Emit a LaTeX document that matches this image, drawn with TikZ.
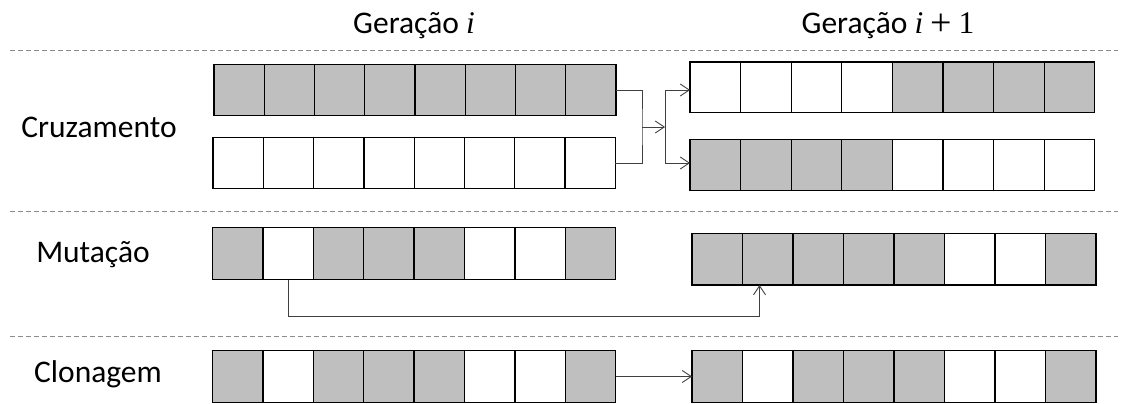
\documentclass[tikz,border=0pt]{standalone}
\usepackage{fontspec}
\setmainfont{Carlito}
\newfontfamily\mathserif{Liberation Serif}
\usetikzlibrary{arrows.meta}
\definecolor{cg}{HTML}{BFBFBF}
\definecolor{cw}{HTML}{FFFFFF}
\definecolor{linkc}{HTML}{404040}
\definecolor{sepc}{HTML}{8C8C8C}

% one chromosome: name, left x, top y, cell width, cell height, list of fills
\newcommand\chrom[6]{%
  \foreach \c [count=\k] in {#6} {%
    \node[cell, fill=\c, minimum width=#4, minimum height=#5]
      (#1-\k) at ({#2+(\k-0.5)*#4}, {#3+0.5*#5}) {};
  }%
}
% generation index set in a serif face
\newcommand\genvar{{\mathserif\itshape i}}
\newcommand\genplus{\raisebox{-1.2pt}{\fontsize{38}{38}\mathserif +}}

\tikzset{
  cell/.style={draw=black, line width=1.3pt, inner sep=0pt, outer sep=0pt},
  link/.style={draw=linkc, line width=0.9pt},
  arr/.style={link, -{Straight Barb[length=9pt, width=12pt]}},
  sep/.style={draw=sepc, line width=0.9pt, dash pattern=on 5pt off 3pt},
  lbl/.style={font=\fontsize{31.5}{38}\selectfont, anchor=base, inner sep=0pt},
}

\begin{document}
\begin{tikzpicture}[x=1pt, y=-1pt]
\useasboundingbox (0,0) rectangle (1128,404);

% headers and row labels
\node[lbl] (hA) at (414,34) {Geração \genvar};
\node[lbl] (hB) at (888,34) {Geração \genvar\hspace{0.22em}\genplus\hspace{0.22em}{\mathserif 1}};
\node[lbl] (lC) at (99,137) {Cruzamento};
\node[lbl] (lM) at (93,262) {Mutação};
\node[lbl] (lK) at (98,382) {Clonagem};

% section separators
\draw[sep] (10,50) -- (1118,50);
\draw[sep] (10,211) -- (1118,211);
\draw[sep] (10,336) -- (1118,336);

% crossover
\chrom{A}{214}{64.5}{50.25}{51}{cg,cg,cg,cg,cg,cg,cg,cg}
\chrom{B}{213}{137.5}{50.3}{51}{cw,cw,cw,cw,cw,cw,cw,cw}
\chrom{C}{690}{62}{50.6}{50.5}{cw,cw,cw,cw,cg,cg,cg,cg}
\chrom{D}{690}{139.5}{50.6}{51}{cg,cg,cg,cg,cw,cw,cw,cw}

% mutation
\chrom{E}{212.5}{227.5}{50.4}{52}{cg,cw,cg,cg,cg,cw,cw,cg}
\chrom{F}{692}{233.5}{50.5}{51.5}{cg,cg,cg,cg,cg,cw,cw,cg}

% cloning
\chrom{G}{212.5}{350.5}{50.4}{52}{cg,cw,cg,cg,cg,cw,cw,cg}
\chrom{H}{692}{350.5}{50.5}{52}{cg,cw,cg,cg,cg,cw,cw,cg}

% crossover connectors
\coordinate (j1) at (642,127);
\coordinate (j2) at (665,127);
\draw[link] (A-8.east) -| (j1) |- (B-8.east);
\draw[arr] (j1) -- (j2);
\draw[arr] (j2) |- (C-1.west |- A-8.east);
\draw[arr] (j2) |- (D-1.west |- B-8.east);

% mutation connector
\coordinate (m) at (759.5,316);
\draw[arr] (E-2.south) |- (m) -- (m |- F-2.south);

% cloning connector
\draw[arr] (G-8.east) -- (H-1.west);
\end{tikzpicture}
\end{document}
